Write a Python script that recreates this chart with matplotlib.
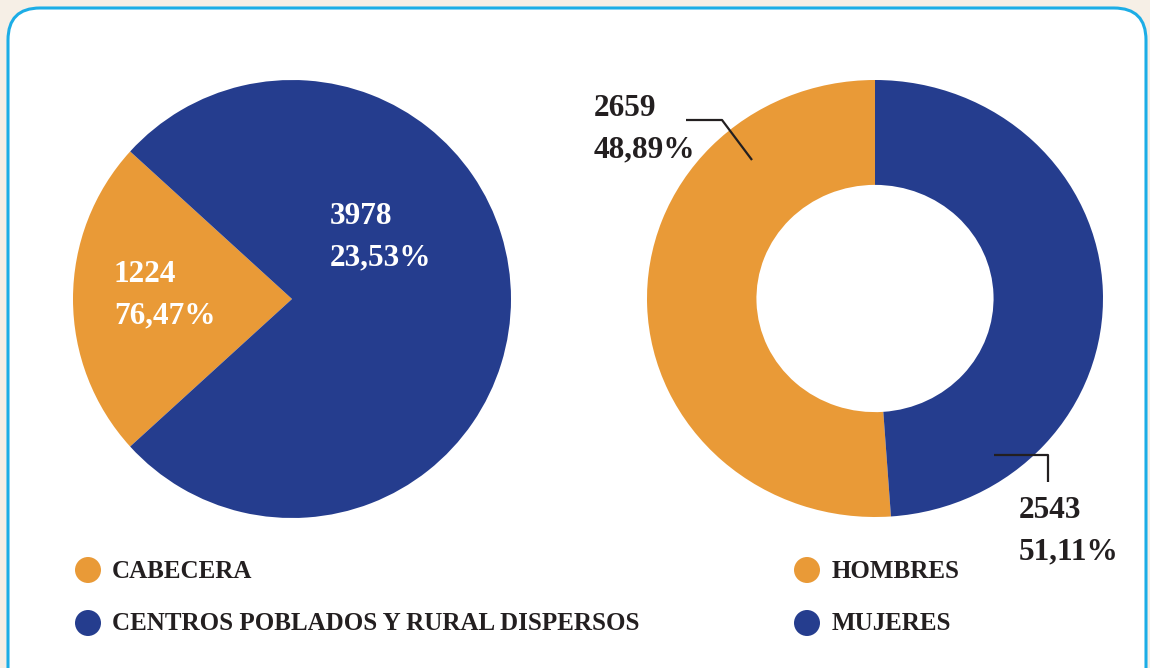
import matplotlib
matplotlib.use("Agg")
import matplotlib.pyplot as plt
from matplotlib.patches import FancyBboxPatch, Circle

# ---- data ----
area_labels = ["CABECERA", "CENTROS POBLADOS Y RURAL DISPERSOS"]
area_values = [1224, 3978]
area_pct_text = ["76,47%", "23,53%"]

sex_labels = ["HOMBRES", "MUJERES"]
sex_values = [2659, 2543]
sex_pct_text = ["48,89%", "51,11%"]

ORANGE = "#E99A37"
BLUE = "#253D8E"
TXT = "#231F20"
W, H = 1150, 668

plt.rcParams['font.family'] = ['Liberation Serif', 'DejaVu Serif']

fig = plt.figure(figsize=(W / 100, H / 100), dpi=100, facecolor="#F6EFE6")
bg = fig.add_axes([0, 0, 1, 1])
bg.set_xlim(0, W)
bg.set_ylim(0, H)
bg.axis("off")
bg.add_patch(FancyBboxPatch((8, -40), 1138, H - 8 + 40,
                            boxstyle="round,pad=0,rounding_size=32",
                            facecolor="white", edgecolor="#1CADE6", linewidth=2.2))

def px_axes(x0, y0, w, h):
    """axes placed by pixel box (top-left origin)"""
    return fig.add_axes([x0 / W, 1 - (y0 + h) / H, w / W, h / H])

# ---- left pie ----
ax1 = px_axes(73, 80, 438, 438)
frac0 = area_values[0] / sum(area_values) * 360
ax1.pie(area_values, colors=[ORANGE, BLUE], startangle=180 - frac0 / 2,
        counterclock=True, wedgeprops=dict(linewidth=0))
ax1.set_xlim(-1, 1); ax1.set_ylim(-1, 1)
ax1.set_aspect("auto")

# ---- donut ----
ax2 = px_axes(647, 80, 456, 437)
ax2.pie(sex_values, colors=[ORANGE, BLUE], startangle=90, counterclock=True,
        wedgeprops=dict(width=0.48, linewidth=0))
ax2.set_xlim(-1, 1); ax2.set_ylim(-1, 1)
ax2.set_aspect("auto")

# overlay for labels and leader lines
top = fig.add_axes([0, 0, 1, 1])
top.set_xlim(0, W)
top.set_ylim(0, H)
top.axis("off")
top.patch.set_alpha(0)

fs = 22.5
def put(x, ytop, s, color):
    top.text(x, H - ytop, s, color=color, fontsize=fs, fontweight="bold",
             ha="left", va="top", linespacing=1.55)

put(330, 202, f"{area_values[1]}\n{area_pct_text[1]}", "white")
put(114, 260, f"{area_values[0]}\n{area_pct_text[0]}", "white")
put(594, 94, f"{sex_values[0]}\n{sex_pct_text[0]}", TXT)
put(1019, 496, f"{sex_values[1]}\n{sex_pct_text[1]}", TXT)

# leader lines
top.plot([686, 722, 752], [H - 120, H - 120, H - 160], color=TXT, lw=1.6,
         solid_capstyle="butt")
top.plot([994, 1048, 1048], [H - 455, H - 455, H - 482], color=TXT, lw=1.6,
         solid_capstyle="butt")

# legends
leg_fs = 18
for i, (lab, col) in enumerate(zip(area_labels, [ORANGE, BLUE])):
    y = H - (570 + 53 * i)
    top.add_patch(Circle((88, y), 13, color=col, lw=0))
    top.text(112, y - 1, lab, fontsize=leg_fs, fontweight="bold", color=TXT,
             ha="left", va="center")
for i, (lab, col) in enumerate(zip(sex_labels, [ORANGE, BLUE])):
    y = H - (570 + 53 * i)
    top.add_patch(Circle((807, y), 13, color=col, lw=0))
    top.text(832, y - 1, lab, fontsize=leg_fs, fontweight="bold", color=TXT,
             ha="left", va="center")

fig.savefig("out.png", dpi=100, facecolor=fig.get_facecolor())
